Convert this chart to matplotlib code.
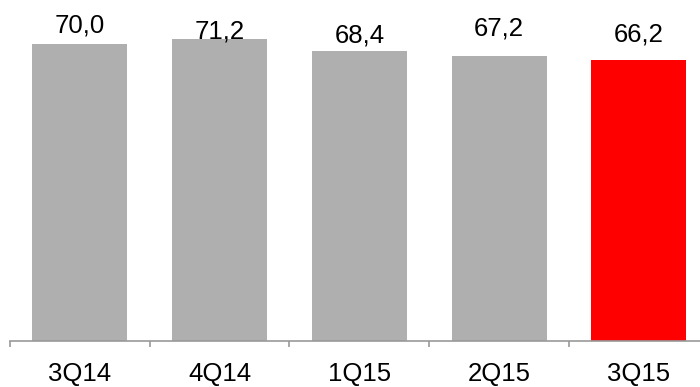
import matplotlib
matplotlib.use("Agg")
import matplotlib.pyplot as plt
import numpy as np

quarters = ["3Q14", "4Q14", "1Q15", "2Q15", "3Q15"]
values = [70.0, 71.2, 68.4, 67.2, 66.2]
labels = ["70,0", "71,2", "68,4", "67,2", "66,2"]

# label gaps above each bar (points), as placed in the original
label_gap = [8.6, 0.7, 5.8, 14.4, 13.7]
colors = ["#AFAFAF"] * 4 + ["#FF0000"]

plt.rcParams['font.family'] = ['Liberation Sans', 'DejaVu Sans']

fig = plt.figure(figsize=(7.0, 3.87), dpi=100)
ax = fig.add_axes([10 / 700, 46 / 387, 690 / 700, 341 / 387])

x = np.arange(len(quarters))
ax.bar(x, values, width=0.68, color=colors, zorder=2)

for xi, v, lab, g in zip(x, values, labels, label_gap):
    ax.annotate(lab, (xi, v), xytext=(0, g), textcoords="offset points",
                ha="center", va="baseline", fontsize=18.5, color="black")

ax.set_xlim(-0.5, -0.5 + 690 / 139.75)
ax.set_ylim(0, 80.4)

for s in ["top", "right", "left"]:
    ax.spines[s].set_visible(False)
ax.spines["bottom"].set_color("#999999")
ax.spines["bottom"].set_linewidth(1.2)

ax.set_yticks([])
ax.set_xticks(x)
ax.set_xticklabels(quarters, fontsize=18.5)
ax.tick_params(axis="x", which="major", length=0, pad=15)
ax.set_xticks(np.arange(-0.5, 4.0, 1.0), minor=True)
ax.tick_params(axis="x", which="minor", length=4.5, width=1.2, color="#999999", direction="out")

fig.savefig("out.png", dpi=100)
